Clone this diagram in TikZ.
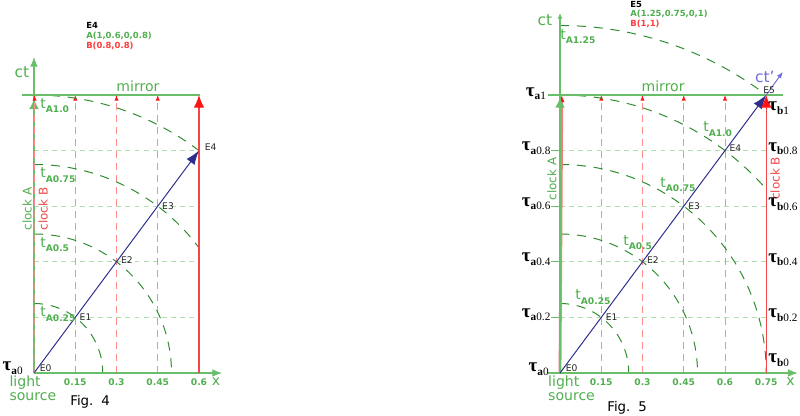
\documentclass[tikz,border=0pt]{standalone}
\usepackage{fontspec}
\setmainfont{DejaVu Sans}
\newfontfamily\taufont{Liberation Serif}
\usetikzlibrary{positioning}
\usetikzlibrary{calc}
\usetikzlibrary{arrows.meta}

\definecolor{axisgreen}{RGB}{105,190,105}
\definecolor{textgreen}{RGB}{80,175,80}
\definecolor{arcgreen}{RGB}{45,140,45}
\definecolor{gridgreen}{RGB}{175,225,175}
\definecolor{gridred}{RGB}{255,140,140}
\definecolor{clockred}{RGB}{240,70,70}
\definecolor{tipred}{RGB}{255,20,20}
\definecolor{softred}{RGB}{245,125,125}
\definecolor{navy}{RGB}{45,45,140}
\definecolor{primeblue}{RGB}{110,110,215}
\definecolor{notered}{RGB}{255,60,60}

\newcommand{\taulab}[2]{τ\raisebox{-2.5pt}{\fontsize{8}{9}\selectfont{\bfseries #1}{\mdseries #2}}}
\newcommand{\tlab}[1]{t\raisebox{-3pt}{\bfseries\fontsize{6.5}{8}\selectfont A#1}}

\tikzset{
  axisline/.style={draw=axisgreen,line width=0.9pt},
  axisarrow/.style={axisline,-{Latex[length=7pt,width=5.5pt]}},
  smallaxis/.style={axisline,-{Latex[length=4pt,width=3.5pt]}},
  gridh/.style={draw=gridgreen,line width=0.6pt,dash pattern=on 3.5pt off 3pt},
  gridv/.style={draw=gridred,line width=0.6pt,dash pattern=on 5pt off 3.5pt,-{Latex[length=4pt,width=3pt,color=tipred]}},
  arcline/.style={draw=arcgreen,line width=0.7pt,dash pattern=on 6.5pt off 5.5pt},
  greentip/.style={draw=axisgreen,line width=0.9pt,-{Latex[length=7pt,width=7pt,color=axisgreen]}},
  redclock/.style={draw=clockred,line width=0.9pt,-{Latex[length=9pt,width=7.5pt,color=tipred]}},
  softclock/.style={draw=softred,line width=2pt,-{Latex[length=5pt,width=4pt,color=tipred]}},
  worldline/.style={draw=navy,line width=0.7pt,-{Latex[length=10pt,width=7pt,color=navy]}},
  primeline/.style={draw=primeblue,line width=0.7pt,-{Latex[length=4.5pt,width=3.5pt,color=primeblue]}},
  lbl/.style={text=textgreen,inner sep=0pt,font=\fontsize{10}{10}\selectfont},
  cklbl/.style={lbl,rotate=90,font=\fontsize{8.5}{10}\selectfont},
  tick/.style={text=textgreen,inner sep=0pt,font=\bfseries\fontsize{6.5}{8}\selectfont},
  ev/.style={text=black!85,inner sep=1pt,font=\fontsize{6.5}{8}\selectfont},
  tlbl/.style={text=textgreen,inner sep=0pt,anchor=base west,font=\fontsize{10}{10}\selectfont},
  taunode/.style={inner sep=0pt,font=\taufont\bfseries\fontsize{13.5}{16}\selectfont},
  note/.style={inner sep=0pt,anchor=west,font=\bfseries\fontsize{6}{7}\selectfont},
  figlbl/.style={inner sep=0pt,anchor=west,font=\fontsize{9.5}{11}\selectfont}
}

\begin{document}
\begin{tikzpicture}
\useasboundingbox (0,0) rectangle (20,10.4);

\begin{scope}[shift={(0.85,1.075)},x=6.875cm,y=6.95cm]
\coordinate (Oa) at (0,0);
\coordinate (E1a) at (0.15,0.2);
\coordinate (E2a) at (0.3,0.4);
\coordinate (E3a) at (0.45,0.6);
\coordinate (E4a) at (0.6,0.8);
\coordinate (ctTopa) at (0,1.137);
\coordinate (xEnda) at (0.684,0);
\coordinate (mirLa) at (-0.044,1);
\coordinate (mirRa) at (0.604,1);
\coordinate (clkATopa) at (0,0.985);
\coordinate (clkBBota) at (0.6,0);
\coordinate (clkBTopa) at (0.6,1);

\foreach \y in {0.2,0.4,0.6,0.8} \draw[gridh] (0,\y) -- (0.6,\y);
\foreach \x in {0.15,0.3,0.45} \draw[gridv] (\x,0) -- (\x,1);
\draw[arcline] (0,0.25) arc[start angle=90,end angle=0,radius=0.25];
\draw[arcline] (0,0.5) arc[start angle=90,end angle=0,radius=0.5];
\draw[arcline] (0,0.75) arc[start angle=90,end angle=36.87,radius=0.75];
\draw[arcline] (0,1) arc[start angle=90,end angle=53.13,radius=1];

\path
(Oa) edge[axisarrow] (ctTopa)
(Oa) edge[axisarrow] (xEnda)
(mirLa) edge[axisline] (mirRa)
(Oa) edge[greentip] (clkATopa)
(clkBBota) edge[redclock] (clkBTopa)
(Oa) edge[worldline] (E4a);
\draw[gridv,xshift=0.4pt] (Oa) -- (0,1);

\node[lbl](ctLa) at (-0.044,1.083){\fontsize{11}{11}\selectfont ct};
\node[lbl](mirrorLa) at (0.378,1.03){mirror};
\node[lbl,anchor=north west,align=left](srcLa) at (-0.09,-0.01){light\\source};
\node[lbl](xLa) at (0.662,-0.032){x};
\node[cklbl](clkALa) at (-0.025,0.59){clock A};
\node[cklbl,text=clockred](clkBLa) at (0.033,0.59){clock B};

\node[tick](t015a) at (0.15,-0.033){0.15};
\node[tick](t030a) at (0.3,-0.033){0.3};
\node[tick](t045a) at (0.45,-0.033){0.45};
\node[tick](t060a) at (0.6,-0.033){0.6};

\node[ev,anchor=south west](lE0a) at ([xshift=3pt]Oa){E0};
\node[ev,anchor=west](lE1a) at ([xshift=2pt]E1a){E1};
\node[ev,anchor=west](lE2a) at ([xshift=2pt,yshift=1pt]E2a){E2};
\node[ev,anchor=west](lE3a) at ([xshift=2pt]E3a){E3};
\node[ev,anchor=west](lE4a) at ([xshift=3pt,yshift=2.5pt]E4a){E4};

\node[taunode,anchor=base east](tauA0a) at (-0.04,0.008){\taulab{a}{0}};

\node[tlbl](tA025a) at (0.022,0.202){\tlab{0.25}};
\node[tlbl](tA050a) at (0.022,0.452){\tlab{0.5}};
\node[tlbl](tA075a) at (0.022,0.702){\tlab{0.75}};
\node[tlbl](tA100a) at (0.022,0.952){\tlab{1.0}};

\node[note](noteEa) at (0.189,1.252){E4};
\node[note,text=textgreen](noteAa) at (0.189,1.212){A(1,0.6,0,0.8)};
\node[note,text=notered](noteBa) at (0.189,1.176){B(0.8,0.8)};
\node[figlbl](figa) at (0.131,-0.104){Fig.\hspace{0.6em}4};
\end{scope}

\begin{scope}[shift={(14,1.075)},x=6.875cm,y=6.95cm]
\coordinate (Ob) at (0,0);
\coordinate (E1b) at (0.15,0.2);
\coordinate (E2b) at (0.3,0.4);
\coordinate (E3b) at (0.45,0.6);
\coordinate (E4b) at (0.6,0.8);
\coordinate (E5b) at (0.75,1);
\coordinate (ctTopb) at (0,1.295);
\coordinate (xStartb) at (-0.044,0);
\coordinate (xEndb) at (0.865,0);
\coordinate (mirLb) at (-0.044,1);
\coordinate (mirRb) at (0.81,1);
\coordinate (clkATopb) at (0,0.99);
\coordinate (clkBBotb) at (0.75,0);
\coordinate (primeEndb) at (0.81,1.083);

\foreach \y in {0.2,0.4,0.6,0.8} \draw[gridh] (0,\y) -- (0.75,\y);
\foreach \y in {0.2,0.4,0.6,0.8} \draw[axisline,line width=0.6pt] (-0.033,\y) -- (0,\y);
\foreach \x in {0.15,0.3,0.45,0.6} \draw[gridv] (\x,0) -- (\x,1);
\draw[arcline] (0,0.25) arc[start angle=90,end angle=0,radius=0.25];
\draw[arcline] (0,0.5) arc[start angle=90,end angle=0,radius=0.5];
\draw[arcline] (0,0.75) arc[start angle=90,end angle=0,radius=0.75];
\draw[arcline] (0,1) arc[start angle=90,end angle=41.41,radius=1];
\draw[arcline] (0,1.25) arc[start angle=90,end angle=53.13,radius=1.25];

\draw[softclock,xshift=1.3pt] (Ob) -- (0,1);
\path
(Ob) edge[smallaxis] (ctTopb)
(xStartb) edge[axisarrow] (xEndb)
(mirLb) edge[axisline] (mirRb)
(Ob) edge[greentip] (clkATopb)
(Ob) edge[worldline] (E5b)
(E5b) edge[primeline] (primeEndb)
(clkBBotb) edge[redclock] (E5b);

\node[lbl](ctLb) at (-0.055,1.27){\fontsize{11}{11}\selectfont ct};
\node[lbl,text=primeblue](ctPLb) at (0.745,1.065){\fontsize{11}{11}\selectfont ct'};
\node[lbl](mirrorLb) at (0.375,1.03){mirror};
\node[lbl,anchor=north west,align=left](srcLb) at (-0.044,-0.01){light\\source};
\node[lbl](xLb) at (0.838,-0.032){x};
\node[cklbl](clkALb) at (-0.029,0.698){clock A};
\node[cklbl,text=clockred](clkBLb) at (0.782,0.70){clock B};

\node[tick](t015b) at (0.15,-0.033){0.15};
\node[tick](t030b) at (0.3,-0.033){0.3};
\node[tick](t045b) at (0.45,-0.033){0.45};
\node[tick](t060b) at (0.6,-0.033){0.6};
\node[tick](t075b) at (0.75,-0.033){0.75};

\node[ev,anchor=south west](lE0b) at ([xshift=3pt]Ob){E0};
\node[ev,anchor=west](lE1b) at ([xshift=2pt]E1b){E1};
\node[ev,anchor=west](lE2b) at ([xshift=2pt,yshift=1pt]E2b){E2};
\node[ev,anchor=west](lE3b) at ([xshift=2pt]E3b){E3};
\node[ev,anchor=west](lE4b) at ([xshift=2pt,yshift=1.5pt]E4b){E4};
\node[ev,anchor=south,inner sep=0pt](lE5b) at ([xshift=2pt,yshift=1pt]E5b){E5};

\node[taunode,anchor=base east](tauA0b) at (-0.04,0.004){\taulab{a}{0}};
\node[taunode,anchor=base east](tauA02b) at (-0.034,0.2){\taulab{a}{0.2}};
\node[taunode,anchor=base east](tauA04b) at (-0.034,0.4){\taulab{a}{0.4}};
\node[taunode,anchor=base east](tauA06b) at (-0.034,0.6){\taulab{a}{0.6}};
\node[taunode,anchor=base east](tauA08b) at (-0.034,0.8){\taulab{a}{0.8}};
\node[taunode,anchor=base east](tauA1b) at (-0.05,0.995){\taulab{a}{1}};
\node[taunode,anchor=base west](tauB0b) at (0.757,0.036){\taulab{b}{0}};
\node[taunode,anchor=base west](tauB02b) at (0.757,0.198){\taulab{b}{0.2}};
\node[taunode,anchor=base west](tauB04b) at (0.757,0.398){\taulab{b}{0.4}};
\node[taunode,anchor=base west](tauB06b) at (0.757,0.598){\taulab{b}{0.6}};
\node[taunode,anchor=base west](tauB08b) at (0.757,0.798){\taulab{b}{0.8}};
\node[taunode,anchor=base west](tauB1b) at (0.757,0.943){\taulab{b}{1}};

\node[tlbl](tA025b) at (0.055,0.263){\tlab{0.25}};
\node[tlbl](tA050b) at (0.229,0.46){\tlab{0.5}};
\node[tlbl](tA075b) at (0.364,0.669){\tlab{0.75}};
\node[tlbl](tA100b) at (0.52,0.867){\tlab{1.0}};
\node[tlbl](tA125b) at (0,1.2){\tlab{1.25}};

\node[note](noteEb) at (0.255,1.327){E5};
\node[note,text=textgreen](noteAb) at (0.255,1.291){A(1.25,0.75,0,1)};
\node[note,text=notered](noteBb) at (0.255,1.255){B(1,1)};
\node[figlbl](figb) at (0.171,-0.126){Fig.\hspace{0.6em}5};
\end{scope}
\end{tikzpicture}
\end{document}
